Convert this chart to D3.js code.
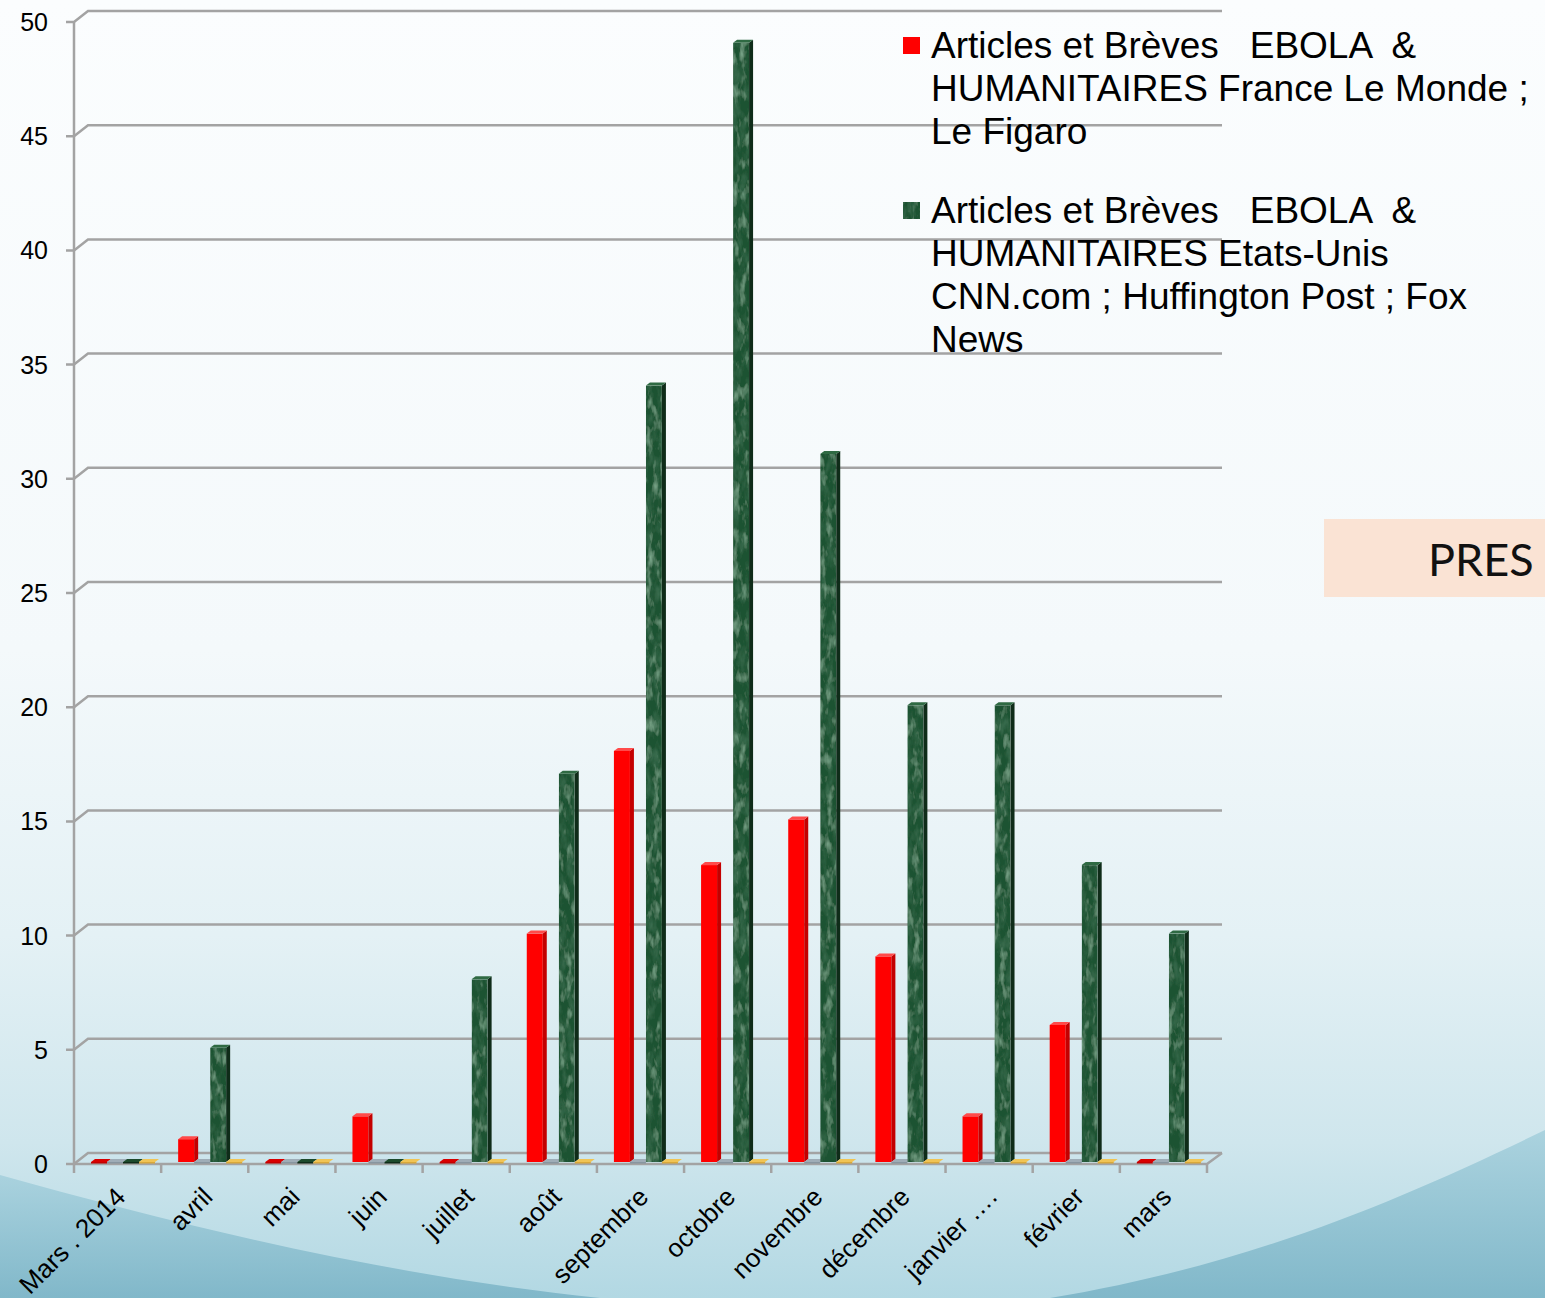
<!DOCTYPE html>
<html lang="fr">
<head>
<meta charset="UTF-8">
<title>Ebola presse</title>
<script src="https://d3js.org/d3.v7.min.js"></script>
<style>
  html, body { margin: 0; padding: 0; overflow: hidden; }
  svg { display: block; font-family: "Liberation Sans", Arial, sans-serif; }
</style>
</head>
<body>
<svg id="chart" width="1545" height="1298"></svg>
<script>
// data
var months = ["Mars . 2014", "avril", "mai", "juin", "juillet", "août", "septembre",
              "octobre", "novembre", "décembre", "janvier ….", "février", "mars"];
var france = [0, 1, 0, 2, 0, 10, 18, 13, 15, 9, 2, 6, 0];
var usa    = [0, 5, 0, 0, 8, 17, 34, 49, 31, 20, 20, 13, 10];
var gray   = [0, 0, 0, 0, 0, 0, 0, 0, 0, 0, 0, 0, 0];
var yellow = [0, 0, 0, 0, 0, 0, 0, 0, 0, 0, 0, 0, 0];
var yTicks = [0, 5, 10, 15, 20, 25, 30, 35, 40, 45, 50];
var legendFrance = ["Articles et Brèves   EBOLA  &", "HUMANITAIRES France Le Monde ;", "Le Figaro"];
var legendUsa = ["Articles et Brèves   EBOLA  &", "HUMANITAIRES Etats-Unis", "CNN.com ; Huffington Post ; Fox", "News"];

var W = 1545, H = 1298;
var svg = d3.select("#chart");
var defs = svg.append("defs");

// background gradient
var bg = defs.append("linearGradient").attr("id", "bg").attr("x1", 0).attr("y1", 0).attr("x2", 0).attr("y2", 1);
bg.append("stop").attr("offset", "0").attr("stop-color", "#fbfdfe");
bg.append("stop").attr("offset", "0.5").attr("stop-color", "#f4f9fb");
bg.append("stop").attr("offset", "0.72").attr("stop-color", "#e4f1f5");
bg.append("stop").attr("offset", "0.88").attr("stop-color", "#cfe6ed");
bg.append("stop").attr("offset", "1").attr("stop-color", "#b2d8e3");

var wave = defs.append("linearGradient").attr("id", "wave").attr("x1", 0).attr("y1", 0).attr("x2", 0).attr("y2", 1);
wave.append("stop").attr("offset", "0").attr("stop-color", "#a4cfdc");
wave.append("stop").attr("offset", "1").attr("stop-color", "#78b2c5");

// marble texture for the green bars
var marble = defs.append("filter").attr("id", "marble").attr("x", 0).attr("y", 0).attr("width", 1).attr("height", 1);
marble.append("feTurbulence").attr("type", "fractalNoise").attr("baseFrequency", "0.15 0.06")
  .attr("numOctaves", 3).attr("seed", 7).attr("result", "noise");
marble.append("feColorMatrix").attr("in", "noise").attr("type", "matrix")
  .attr("values", "0 0 0 0 0.05  0 0 0 0 0.17  0 0 0 0 0.09  -1.6 0 0 0 0.95").attr("result", "dark");
marble.append("feColorMatrix").attr("in", "noise").attr("type", "matrix")
  .attr("values", "0 0 0 0 0.25  0 0 0 0 0.47  0 0 0 0 0.32  0 1.8 0 0 -0.95").attr("result", "light");
marble.append("feMerge").attr("result", "mix").call(function(m) {
  m.append("feMergeNode").attr("in", "SourceGraphic");
  m.append("feMergeNode").attr("in", "dark");
  m.append("feMergeNode").attr("in", "light");
});
marble.append("feComposite").attr("in", "mix").attr("in2", "SourceGraphic").attr("operator", "in");

svg.append("rect").attr("width", W).attr("height", H).attr("fill", "url(#bg)");
svg.append("path").attr("fill", "url(#wave)").attr("opacity", 0.85)
  .attr("d", "M0,1175 C180,1225 380,1275 600,1298 L0,1298 Z");
svg.append("path").attr("fill", "url(#wave)").attr("opacity", 0.85)
  .attr("d", "M1545,1130 C1400,1200 1250,1265 1050,1298 L1545,1298 Z");

// PRES box
svg.append("rect").attr("x", 1324).attr("y", 519).attr("width", 240).attr("height", 78).attr("fill", "#fae3d4");
svg.append("text").attr("x", 1428).attr("y", 576).attr("font-family", "Lato, 'Noto Sans', sans-serif")
  .attr("font-size", 45).attr("fill", "#111").text("PRES");

// axes geometry
var xFront0 = 74, xFront1 = 1207, depthX = 14, depthY = -11;
var x = d3.scaleBand().domain(months).range([xFront0, xFront1]).paddingInner(0).paddingOuter(0);
var sub = d3.scaleBand().domain(["france", "gray", "usa", "yellow"]).range([17, 81]);
var y = d3.scaleLinear().domain([0, 50]).range([1164, 22]);

var axisColor = "#a3a3a3";
var grid = svg.append("g").attr("stroke", axisColor).attr("stroke-width", 2.5).attr("fill", "none");

// gridlines on back wall
grid.selectAll("path.grid").data(yTicks).enter().append("path")
  .attr("d", function(v) {
    var yf = y(v);
    return "M" + (xFront0 - 8) + "," + yf + "L" + xFront0 + "," + yf +
      "L" + (xFront0 + depthX) + "," + (yf + depthY) + "L" + (xFront1 + depthX + 1) + "," + (yf + depthY);
  });
// front left vertical
grid.append("line").attr("x1", xFront0).attr("x2", xFront0).attr("y1", y(50)).attr("y2", y(0));
// floor front edge and right edge
grid.append("path").attr("d", "M" + xFront0 + "," + y(0) + "L" + xFront1 + "," + y(0) +
  "L" + (xFront1 + depthX + 1) + "," + (y(0) + depthY));
// category ticks
grid.selectAll("line.ct").data(d3.range(months.length + 1)).enter().append("line")
  .attr("x1", function(i) { return xFront0 + i * x.bandwidth(); })
  .attr("x2", function(i) { return xFront0 + i * x.bandwidth(); })
  .attr("y1", y(0)).attr("y2", y(0) + 9);

// y labels
svg.append("g").selectAll("text").data(yTicks).enter().append("text")
  .attr("x", 48).attr("y", function(v) { return y(v); }).attr("dy", "0.36em")
  .attr("text-anchor", "end").attr("font-size", 25).attr("fill", "#000")
  .text(function(v) { return v; });

// x labels
svg.append("g").selectAll("text").data(months).enter().append("text")
  .attr("transform", function(m) {
    return "translate(" + (x(m) + x.bandwidth() / 2 + 3) + "," + (y(0) + 28) + ") rotate(-45)";
  })
  .attr("text-anchor", "end").attr("font-size", 26).attr("fill", "#000").attr("dy", "0.35em")
  .text(function(m) { return m; });

// bars
var barBase = y(0) - 2, bd = 4, bdy = -3;
var series = [
  { key: "france", values: france, front: "#ff0000", side: "#c40000", top: "#ff4a4a", flat: "#d90000" },
  { key: "gray", values: gray, front: "#9aa7b0", side: "#8896a0", top: "#a9b5bd", flat: "#9fadb7" },
  { key: "usa", values: usa, front: "#1e5230", side: "#0f2c19", top: "#2f6a43", flat: "#1c4a2b" },
  { key: "yellow", values: yellow, front: "#f1c14b", side: "#d9a83a", top: "#f7d06a", flat: "#f0c455" }
];
var barG = svg.append("g");
series.forEach(function(s) {
  var g = barG.append("g");
  months.forEach(function(m, i) {
    var v = s.values[i];
    var x0 = x(m) + sub(s.key), w = sub.bandwidth();
    var yTop = barBase - (y(0) - y(v));
    if (v > 0) {
      g.append("rect").attr("x", x0).attr("y", yTop).attr("width", w).attr("height", barBase - yTop)
        .attr("fill", s.front).attr("filter", s.key === "usa" ? "url(#marble)" : null);
      g.append("path").attr("fill", s.side)
        .attr("d", "M" + (x0 + w) + "," + yTop + "l" + bd + "," + bdy + "L" + (x0 + w + bd) + "," + (barBase + bdy) +
          "L" + (x0 + w) + "," + barBase + "Z");
      g.append("path").attr("fill", s.top)
        .attr("d", "M" + x0 + "," + yTop + "l" + bd + "," + bdy + "l" + w + ",0l" + (-bd) + "," + (-bdy) + "Z");
    } else {
      g.append("path").attr("fill", s.flat)
        .attr("d", "M" + x0 + "," + barBase + "l" + bd + "," + bdy + "l" + w + ",0l" + (-bd) + "," + (-bdy) + "Z");
      g.append("rect").attr("x", x0).attr("y", barBase).attr("width", w).attr("height", 1.5).attr("fill", s.side);
    }
  });
});

// legend
var legend = svg.append("g").attr("font-size", 37).attr("fill", "#000");
function legendBlock(lines, y0, color, textured) {
  legend.append("rect").attr("x", 903).attr("y", y0 - 21).attr("width", 17).attr("height", 17)
    .attr("fill", color).attr("filter", textured ? "url(#marble)" : null);
  var t = legend.append("text").attr("x", 931).attr("y", y0).attr("xml:space", "preserve").style("white-space", "pre");
  lines.forEach(function(l, i) {
    t.append("tspan").attr("x", 931).attr("y", y0 + i * 43).text(l);
  });
}
legendBlock(legendFrance, 58, "#ff0000", false);
legendBlock(legendUsa, 223, "#1e5230", true);
</script>
</body>
</html>
